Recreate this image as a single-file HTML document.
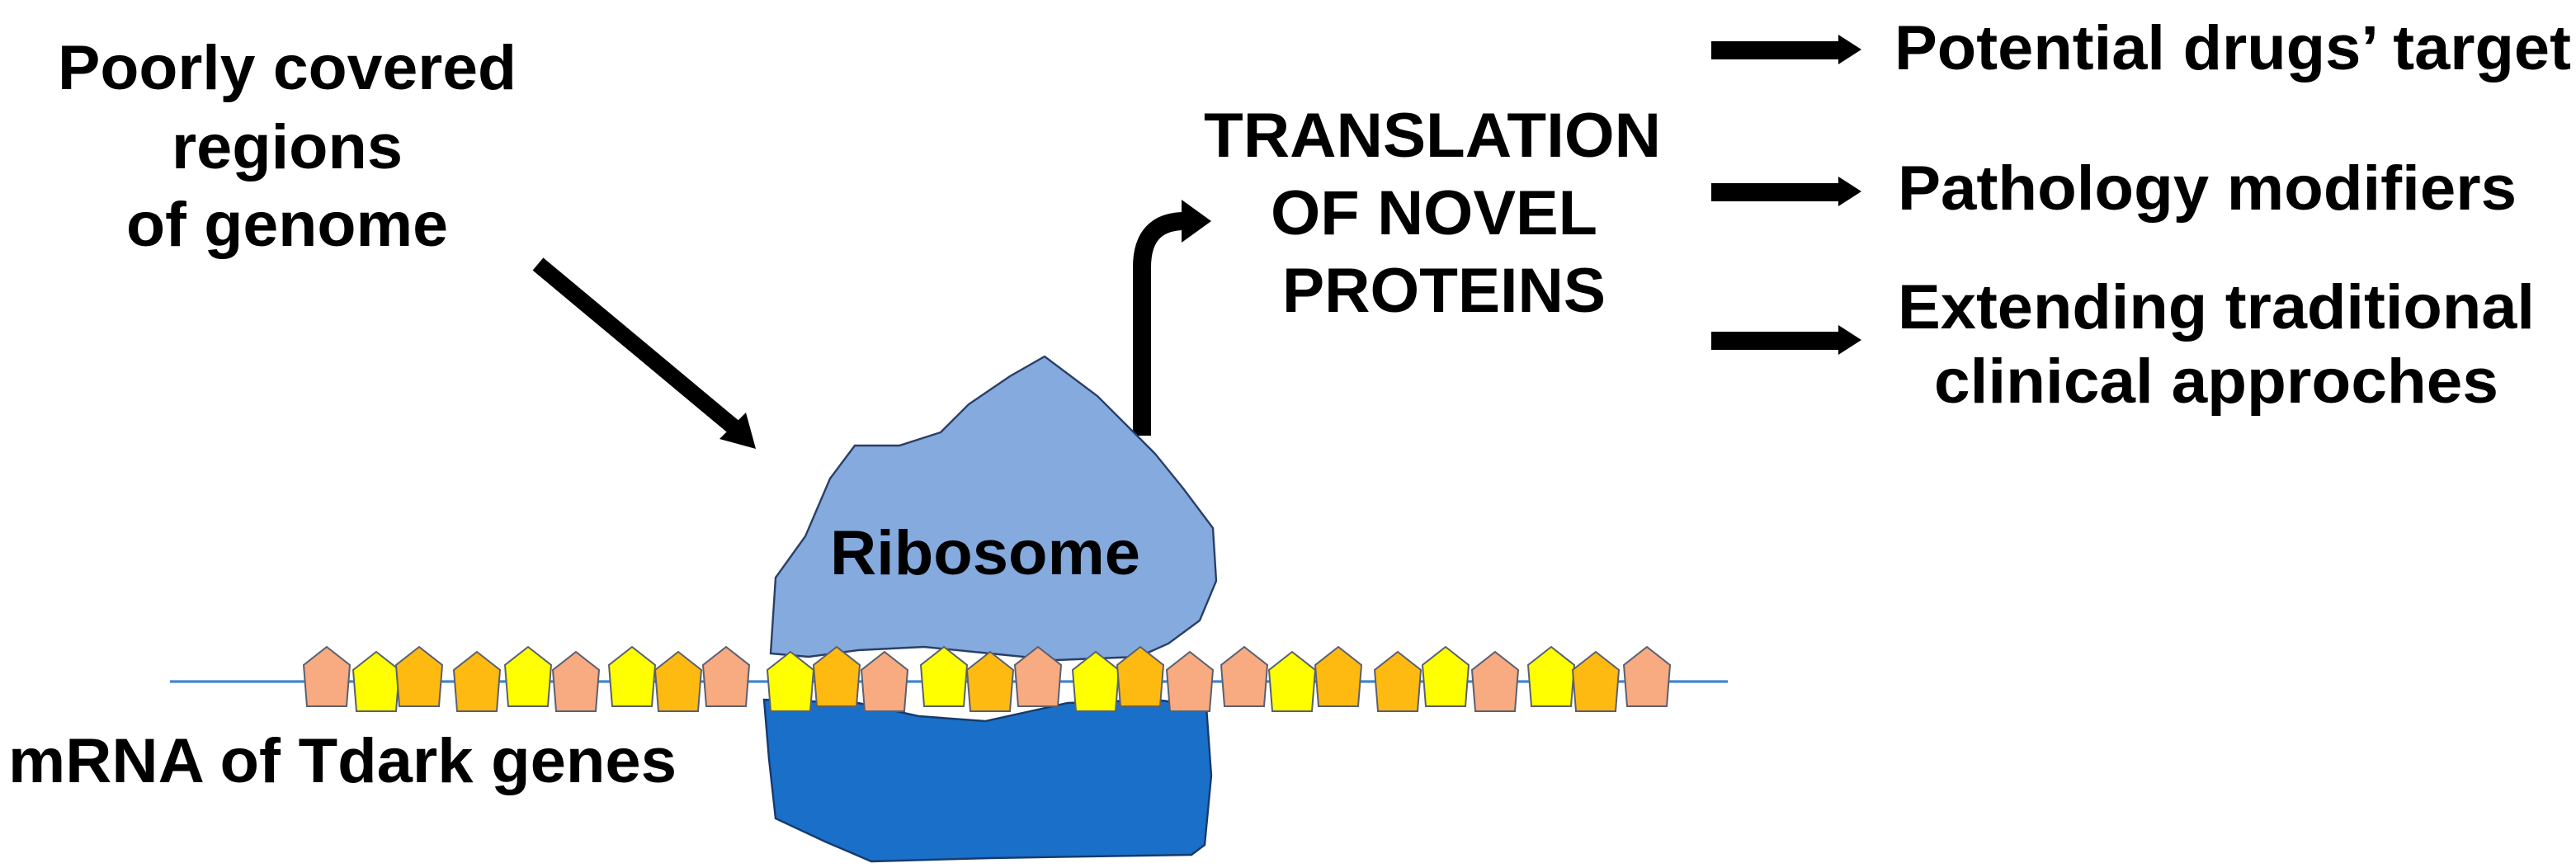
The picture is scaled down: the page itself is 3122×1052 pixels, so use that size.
<!DOCTYPE html>
<html><head><meta charset="utf-8"><style>
html,body{margin:0;padding:0;background:#fff;}
svg{display:block;}
text{font-family:"Liberation Sans",Arial,sans-serif;font-weight:bold;fill:#000;}
</style></head><body>
<svg width="3122" height="1052" viewBox="0 0 1561 526" xmlns="http://www.w3.org/2000/svg">
<rect width="1561" height="526" fill="#fff"/>
<text x="174" y="54" font-size="38" text-anchor="middle" textLength="278" lengthAdjust="spacingAndGlyphs">Poorly covered</text>
<text x="174" y="102" font-size="38" text-anchor="middle" textLength="140" lengthAdjust="spacingAndGlyphs">regions</text>
<text x="174" y="149" font-size="38" text-anchor="middle" textLength="195" lengthAdjust="spacingAndGlyphs">of genome</text>
<line x1="326" y1="160" x2="446" y2="260" stroke="#000" stroke-width="10"/>
<polygon points="458,272 436,266 452,250" fill="#000"/>
<path d="M692 264 V162 Q692 134 718 134" fill="none" stroke="#000" stroke-width="11"/>
<polygon points="734,134 716,121 716,147" fill="#000"/>
<text x="868" y="95" font-size="38" text-anchor="middle" textLength="277" lengthAdjust="spacingAndGlyphs">TRANSLATION</text>
<text x="869" y="142" font-size="38" text-anchor="middle" textLength="198" lengthAdjust="spacingAndGlyphs">OF NOVEL</text>
<text x="875" y="189" font-size="38" text-anchor="middle" textLength="196" lengthAdjust="spacingAndGlyphs">PROTEINS</text>
<rect x="1037" y="25" width="80" height="11" fill="#000"/><polygon points="1128,30 1114,21 1114,39" fill="#000"/>
<rect x="1037" y="111" width="80" height="11" fill="#000"/><polygon points="1128,116 1114,107 1114,125" fill="#000"/>
<rect x="1037" y="201" width="80" height="11" fill="#000"/><polygon points="1128,206 1114,197 1114,215" fill="#000"/>
<text x="1148" y="42" font-size="38" textLength="410" lengthAdjust="spacingAndGlyphs">Potential drugs’ target</text>
<text x="1150" y="127" font-size="38" textLength="375" lengthAdjust="spacingAndGlyphs">Pathology modifiers</text>
<text x="1150" y="199" font-size="38" textLength="386" lengthAdjust="spacingAndGlyphs">Extending traditional</text>
<text x="1172" y="244" font-size="38" textLength="342" lengthAdjust="spacingAndGlyphs">clinical approches</text>
<path d="M633,216 L612,228 L587,245 L570,262 L545,270 L518,270 L503,290 L488,325 L470,350 L467,396 L490,398 L520,394 L560,392 L600,396 L640,400 L690,398 L708,390 L727,376 L737,352 L735,320 L717,296 L700,275 L687,262 L665,240 Z" fill="#84aade" stroke="#2a3f66" stroke-width="1.2"/>
<text x="597" y="348" font-size="38" text-anchor="middle" textLength="188" lengthAdjust="spacingAndGlyphs">Ribosome</text>
<path d="M463,424 L520,426 L557,434 L597,437 L647,426 L700,424 L731,428 L734,470 L730,512 L722,518 L600,520 L528,522 L500,510 L470,496 L466,460 Z" fill="#1a6fc8" stroke="#163a6a" stroke-width="1.2"/>
<line x1="103" y1="413" x2="1047" y2="413" stroke="#3f86d4" stroke-width="1.6"/>
<g stroke="#5a6070" stroke-width="1">
<polygon fill="#f8aa80" points="198,392 212,403 210,428 186,428 184,403"/>
<polygon fill="#ffff00" points="228,395 242,406 240,431 216,431 214,406"/>
<polygon fill="#ffba12" points="254,392 268,403 266,428 242,428 240,403"/>
<polygon fill="#ffba12" points="289,395 303,406 301,431 277,431 275,406"/>
<polygon fill="#ffff00" points="320,392 334,403 332,428 308,428 306,403"/>
<polygon fill="#f8aa80" points="349,395 363,406 361,431 337,431 335,406"/>
<polygon fill="#ffff00" points="383,392 397,403 395,428 371,428 369,403"/>
<polygon fill="#ffba12" points="411,395 425,406 423,431 399,431 397,406"/>
<polygon fill="#f8aa80" points="440,392 454,403 452,428 428,428 426,403"/>
<polygon fill="#ffff00" points="479,395 493,406 491,431 467,431 465,406"/>
<polygon fill="#ffba12" points="507,392 521,403 519,428 495,428 493,403"/>
<polygon fill="#f8aa80" points="536,395 550,406 548,431 524,431 522,406"/>
<polygon fill="#ffff00" points="572,392 586,403 584,428 560,428 558,403"/>
<polygon fill="#ffba12" points="600,395 614,406 612,431 588,431 586,406"/>
<polygon fill="#f8aa80" points="629,392 643,403 641,428 617,428 615,403"/>
<polygon fill="#ffff00" points="664,395 678,406 676,431 652,431 650,406"/>
<polygon fill="#ffba12" points="691,392 705,403 703,428 679,428 677,403"/>
<polygon fill="#f8aa80" points="721,395 735,406 733,431 709,431 707,406"/>
<polygon fill="#f8aa80" points="754,392 768,403 766,428 742,428 740,403"/>
<polygon fill="#ffff00" points="783,395 797,406 795,431 771,431 769,406"/>
<polygon fill="#ffba12" points="811,392 825,403 823,428 799,428 797,403"/>
<polygon fill="#ffba12" points="847,395 861,406 859,431 835,431 833,406"/>
<polygon fill="#ffff00" points="876,392 890,403 888,428 864,428 862,403"/>
<polygon fill="#f8aa80" points="906,395 920,406 918,431 894,431 892,406"/>
<polygon fill="#ffff00" points="940,392 954,403 952,428 928,428 926,403"/>
<polygon fill="#ffba12" points="967,395 981,406 979,431 955,431 953,406"/>
<polygon fill="#f8aa80" points="998,392 1012,403 1010,428 986,428 984,403"/>
</g>
<text x="5" y="474" font-size="38" textLength="405" lengthAdjust="spacingAndGlyphs">mRNA of Tdark genes</text>
</svg>
</body></html>
